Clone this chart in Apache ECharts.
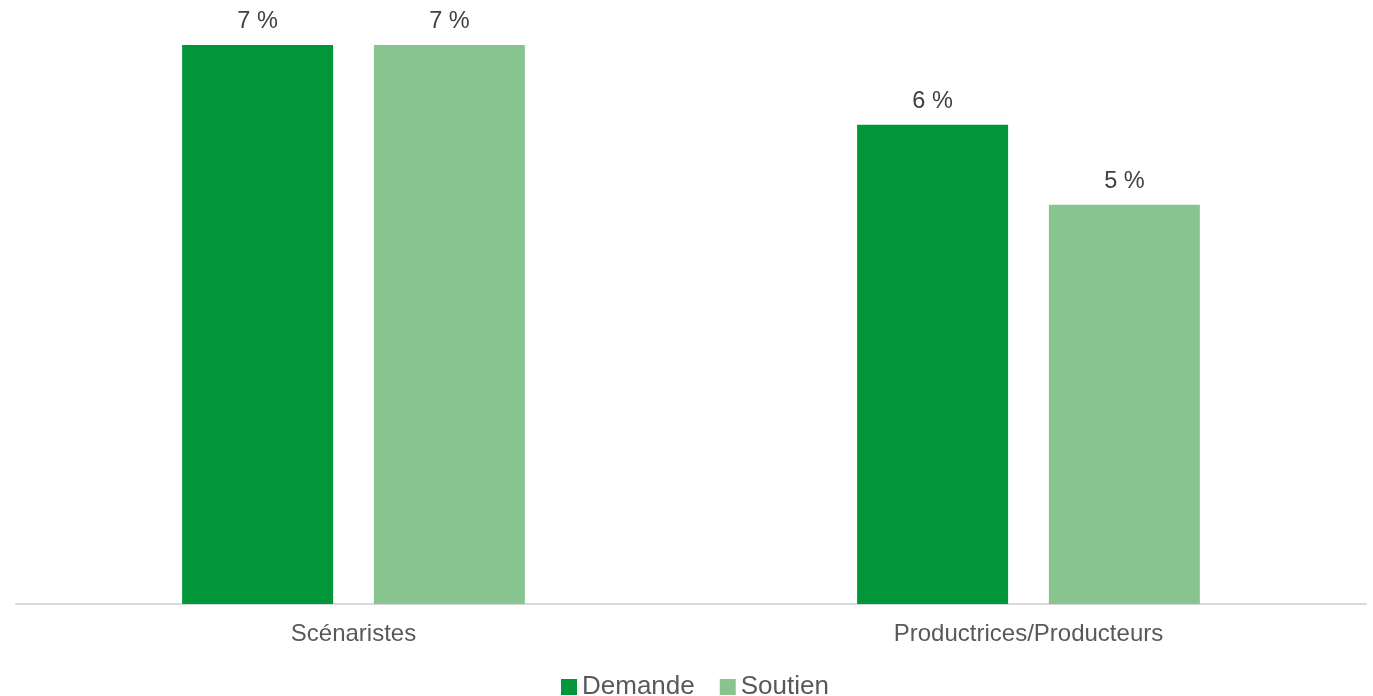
<!DOCTYPE html>
<html>
<head>
<meta charset="utf-8">
<script src="https://cdn.jsdelivr.net/npm/echarts@6/dist/echarts.min.js"></script>
<style>html,body{margin:0;padding:0;background:#fff;}#c{width:1373px;height:696px;}</style>
</head>
<body>
<div id="c"></div>
<script>
const categories = ['Scénaristes', 'Productrices/Producteurs'];
const seriesNames = ['Demande', 'Soutien'];
const demande = [7, 6];
const soutien = [7, 5];

const chart = echarts.init(document.getElementById('c'), null, {renderer: 'canvas'});
const labelStyle = {
  show: true, position: 'top', distance: 11,
  formatter: p => p.value + ' %',
  fontFamily: 'Liberation Sans, Arial, sans-serif', fontSize: 23.5, color: '#404040'
};
chart.setOption({
  animation: false,
  backgroundColor: '#ffffff',
  grid: {left: 16, right: 7, top: 45, bottom: 92, containLabel: false},
  legend: {
    data: seriesNames, left: 561, top: 674, padding: 0, itemWidth: 16, itemHeight: 16, itemGap: 25,
    icon: 'rect',
    textStyle: {fontFamily: 'Liberation Sans, Arial, sans-serif', fontSize: 26, color: '#595959'}
  },
  xAxis: {
    type: 'category', data: categories,
    axisLine: {lineStyle: {color: '#d9d9d9', width: 2}},
    axisTick: {show: false},
    axisLabel: {fontFamily: 'Liberation Sans, Arial, sans-serif', fontSize: 24, color: '#595959', margin: 18}
  },
  yAxis: {type: 'value', min: 0, max: 7, show: false, splitLine: {show: false}},
  series: [
    {name: 'Demande', type: 'bar', data: demande, barWidth: 151, barGap: '27%', itemStyle: {color: '#009639'}, label: labelStyle},
    {name: 'Soutien', type: 'bar', data: soutien, barWidth: 151, itemStyle: {color: '#88C48F'}, label: labelStyle}
  ]
});
</script>
</body>
</html>
